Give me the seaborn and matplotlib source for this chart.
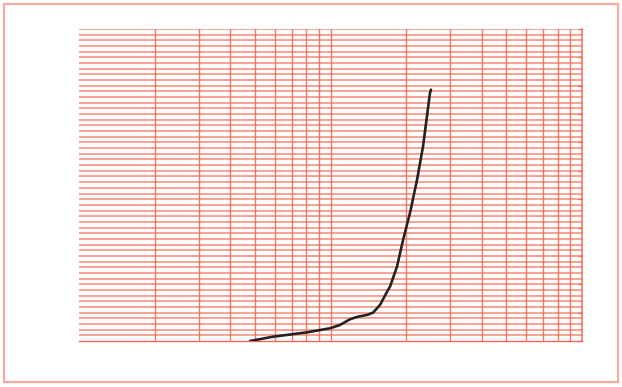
import matplotlib
matplotlib.use("Agg")
import matplotlib.pyplot as plt
import matplotlib.patches as mpatches
import numpy as np
import pandas as pd
import seaborn as sns

# data (log x, linear y)
x_vals = [4.79, 5.91, 8.07, 9.95, 10.9, 11.95, 12.86, 13.97, 14.76, 15.73,
          16.78, 17.24, 18.38, 19.43, 20.71, 22.08, 23.33, 24.86, 25.09]
y_vals = [0.0, 0.76, 1.53, 2.24, 2.82, 3.83, 4.29, 4.59, 4.99, 6.35,
          8.69, 9.58, 13.1, 17.8, 22.6, 28.4, 34.3, 43.7, 44.3]
x_range = [1, 100]
y_range = [0, 55]

sns.set_style("white")
fig = plt.figure(figsize=(6.22, 3.87), dpi=100)
ax = fig.add_axes([79/622, 46/387, 503/622, 312/387])

grid_c = "#f26a55"
ax.set_xscale("log")
ax.set_xlim(*x_range)
ax.set_ylim(*y_range)

# horizontal grid
for y in range(y_range[0] + 1, y_range[1] + 1):
    ax.axhline(y, color=grid_c, lw=1.1, alpha=0.8, zorder=1)
# vertical grid
for dec in [1, 10]:
    for m in range(2, 10):
        ax.axvline(dec * m, color=grid_c, lw=1.0, alpha=0.9, zorder=1)
ax.axvline(10, color=grid_c, lw=1.0, alpha=0.9, zorder=1)

df = pd.DataFrame({"x": x_vals, "y": y_vals})
sns.lineplot(data=df, x="x", y="y", ax=ax, color="#222222", lw=1.9,
             sort=False, zorder=5)

ax.set_xlabel("")
ax.set_ylabel("")
for s in ["left", "top"]:
    ax.spines[s].set_visible(False)
ax.spines["bottom"].set_color(grid_c)
ax.spines["bottom"].set_linewidth(1.0)
ax.spines["right"].set_color(grid_c)
ax.spines["right"].set_linewidth(1.1)

ax.set_xticks([1, 10, 100])
ax.set_xticks([], minor=True)
ax.set_xticklabels([])
ax.tick_params(axis="x", which="major", direction="out", length=4,
               color=grid_c, width=1.0)
ax.set_yticks([])
ax2 = ax.secondary_yaxis("right")
ax2.set_yticks(np.arange(0, 56, 5))
ax2.set_yticklabels([])
ax2.tick_params(direction="in", length=3, color=grid_c, width=0.9)
ax2.spines["right"].set_visible(False)

# outer frame
fig.patches.append(mpatches.Rectangle((4/622, 5/387), 614/622, 378/387,
                                      transform=fig.transFigure, fill=False,
                                      edgecolor="#f6aaa0", lw=1.6))

fig.savefig("out.png", dpi=100)
